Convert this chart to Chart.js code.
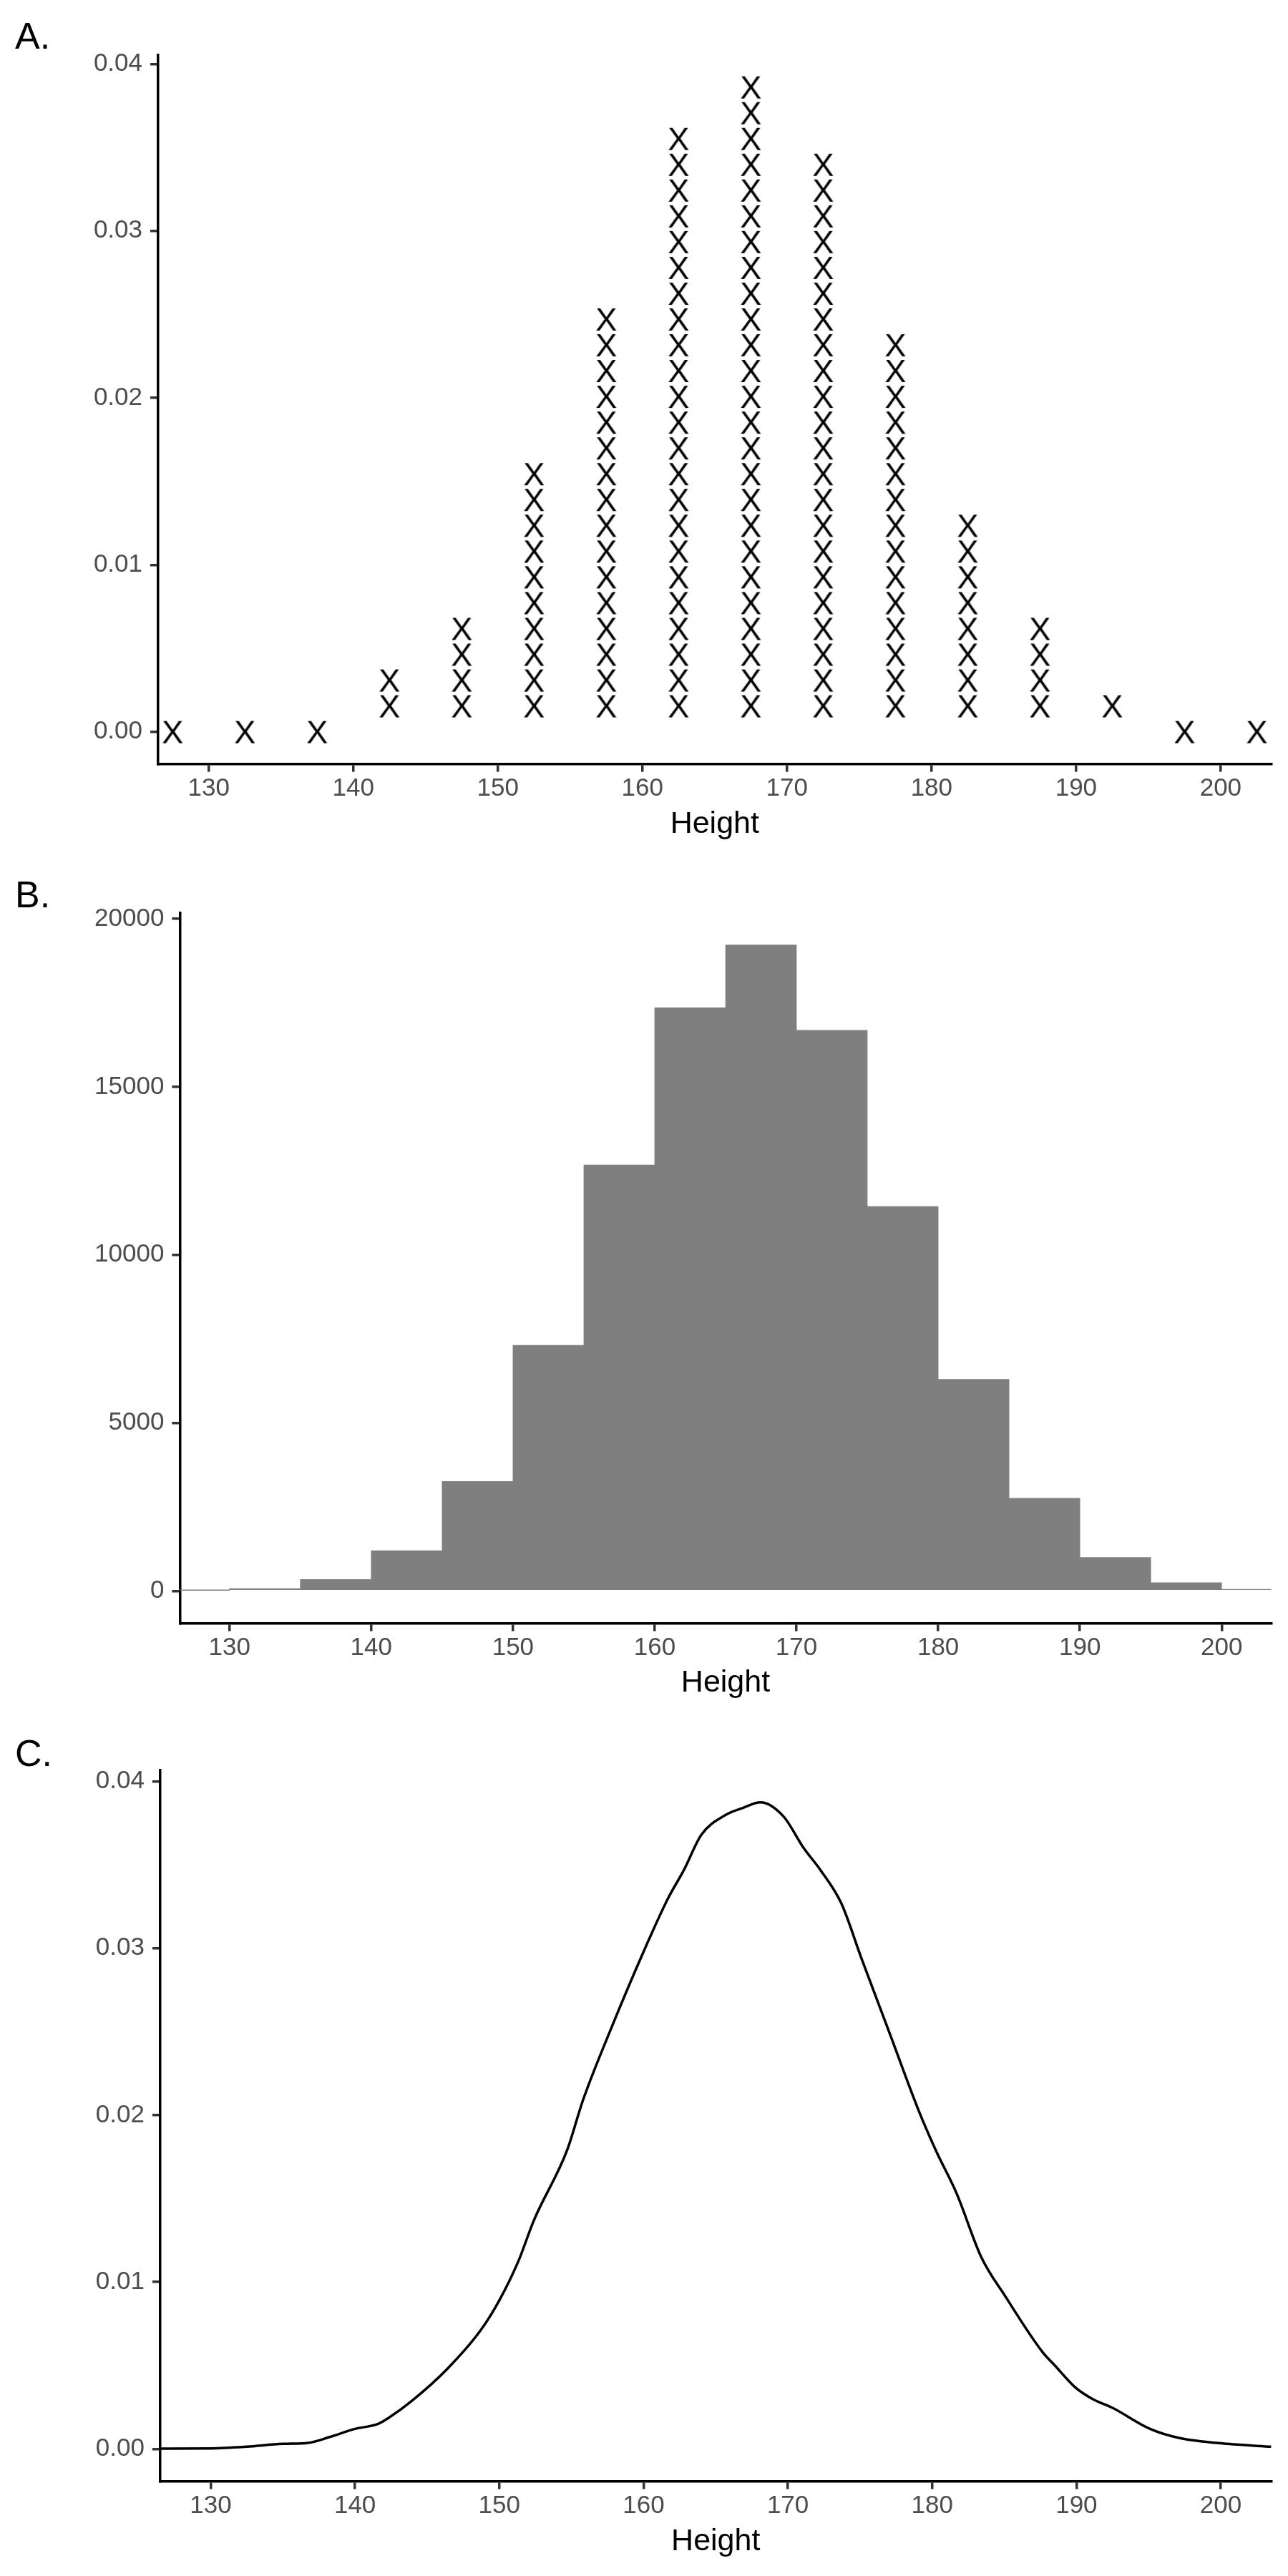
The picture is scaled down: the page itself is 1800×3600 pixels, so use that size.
<!DOCTYPE html>
<html>
<head>
<meta charset="utf-8">
<script src="https://cdn.jsdelivr.net/npm/chart.js@4.4.1/dist/chart.umd.min.js"></script>
<style>
html,body{margin:0;padding:0;background:#ffffff;}
canvas{display:block;}
</style>
</head>
<body>
<canvas id="cA" width="1800" height="1200"></canvas>
<canvas id="cB" width="1800" height="1200"></canvas>
<canvas id="cC" width="1800" height="1200"></canvas>
<script>
// ---------------- data ----------------
const binCenters = [127.5,132.5,137.5,142.5,147.5,152.5,157.5,162.5,167.5,172.5,177.5,182.5,187.5,192.5,197.5,202.5];
// Panel A: number of X marks stacked in each bin (0 => single mark at 0)
const dotCounts = [0,0,0,2,4,10,16,23,25,22,15,8,4,1,0,0];
const dotUnit = 0.001545;
// Panel B: histogram counts per 5-cm bin
const histCounts = [15,70,343,1200,3258,7311,12674,17351,19222,16680,11442,6298,2759,998,250,50];
// Panel C: density curve
const densityX = [126.5,130,132.5,135,136.75,138.2,140,141.6,142.4,143.9,146.4,148.7,150,151.3,152.4,154.7,155.8,157.8,160,161.7,162.8,164,165.7,166.85,168.1,169.7,171.1,172.25,173.7,175.1,177.1,179.1,180.25,181.7,183.4,185.1,187.65,188.5,189.9,191.1,192.5,195.1,197.1,200.5,203.5];
const densityY = [0.00002,0.00003,0.00013,0.0003,0.00036,0.0007,0.0012,0.0015,0.0019,0.00285,0.0048,0.0071,0.0089,0.0112,0.0137,0.0179,0.0209,0.0253,0.0298,0.0330,0.0347,0.0368,0.0380,0.0384,0.03875,0.0379,0.0360,0.0347,0.0327,0.0294,0.0248,0.0202,0.0179,0.0153,0.0115,0.0091,0.0058,0.0050,0.0037,0.0030,0.00246,0.0012,0.00066,0.0003,0.00013];
// tick labels
const xTicks = [130,140,150,160,170,180,190,200];
const densityTicks = [0,0.01,0.02,0.03,0.04];
const countTicks = [0,5000,10000,15000,20000];
const panelTags = ['A.','B.','C.'];
const xTitle = 'Height';

// ---------------- helpers ----------------
const FONT = '"Liberation Sans", Arial, Helvetica, sans-serif';

function makeXGlyph(){
  const c = document.createElement('canvas');
  c.width = 40; c.height = 40;
  const g = c.getContext('2d');
  g.fillStyle = '#000000';
  g.font = '45px "Liberation Sans", Arial, sans-serif';
  g.textAlign = 'center';
  g.textBaseline = 'alphabetic';
  g.fillText('X', 20, 20 + 0.716 * 45 / 2);
  return c;
}

const tagPlugin = {
  id: 'panelTag',
  afterDraw(chart, args, opts){
    const ctx = chart.ctx;
    ctx.save();
    ctx.font = '52px ' + FONT;
    ctx.fillStyle = '#000000';
    ctx.textAlign = 'left';
    ctx.textBaseline = 'alphabetic';
    ctx.fillText(opts.text, 21, 68);
    ctx.restore();
  }
};

function axis(isX, ticksArr, fmt, min, max, size){
  const o = {
    type: 'linear', min: min, max: max, offset: false,
    afterBuildTicks: s => { s.ticks = ticksArr.map(v => ({value: v})); },
    afterFit: s => { if (isX) s.height = size; else s.width = size; },
    grid: { display: true, drawOnChartArea: false, drawTicks: true, tickLength: 11,
            tickColor: '#333333', tickWidth: 3.5, lineWidth: 3.5, color: '#333333', offset: false },
    border: { display: true, color: '#000000', width: 3.5 },
    ticks: { color: '#4D4D4D', font: { family: FONT, size: 35 }, padding: isX ? 3 : 11,
             maxRotation: 0, minRotation: 0, autoSkip: false, callback: fmt }
  };
  if (isX) {
    o.title = { display: true, text: xTitle, color: '#000000', font: { family: FONT, size: 43 },
                padding: { top: 0, bottom: 22 } };
  }
  return o;
}

function baseOptions(tag, area, yAxis){
  return {
    responsive: false, animation: false, devicePixelRatio: 1,
    layout: { padding: { left: 0, top: area.top, right: 1800 - area.right, bottom: 0 } },
    plugins: { legend: { display: false }, tooltip: { enabled: false }, panelTag: { text: tag } },
    scales: {
      x: axis(true, xTicks, v => String(v), 126.5, 203.5, 1200 - area.bottom),
      y: yAxis(area.left)
    }
  };
}

// ---------------- Panel A ----------------
const dotPoints = [];
binCenters.forEach((c, i) => {
  const n = dotCounts[i];
  if (n === 0) dotPoints.push({x: c, y: 0});
  for (let k = 1; k <= n; k++) dotPoints.push({x: c, y: k * dotUnit});
});
const xGlyph = makeXGlyph();
new Chart(document.getElementById('cA'), {
  type: 'scatter',
  data: { datasets: [{ data: dotPoints, pointStyle: xGlyph, pointRadius: 15, showLine: false }] },
  options: baseOptions('A.', {left: 221, right: 1776.6, top: 76.6, bottom: 1067.6},
    w => axis(false, densityTicks, v => Number(v).toFixed(2), -0.00193, 0.040556, w)),
  plugins: [tagPlugin]
});

// ---------------- Panel B ----------------
new Chart(document.getElementById('cB'), {
  type: 'bar',
  data: { datasets: [{ data: binCenters.map((c, i) => ({x: c, y: histCounts[i]})),
    backgroundColor: '#7F7F7F', borderWidth: 0, barPercentage: 1, categoryPercentage: 1 }] },
  options: baseOptions('B.', {left: 251.4, right: 1776.6, top: 75.5, bottom: 1068.6},
    w => axis(false, countTicks, v => String(v), -961, 20181, w)),
  plugins: [tagPlugin]
});

// ---------------- Panel C ----------------
new Chart(document.getElementById('cC'), {
  type: 'line',
  data: { datasets: [{ data: densityX.map((x, i) => ({x: x, y: densityY[i]})),
    borderColor: '#000000', borderWidth: 3.5, pointRadius: 0, fill: false,
    cubicInterpolationMode: 'monotone' }] },
  options: baseOptions('C.', {left: 223.9, right: 1776.6, top: 73.5, bottom: 1067.6},
    w => axis(false, densityTicks, v => Number(v).toFixed(2), -0.00194, 0.04069, w)),
  plugins: [tagPlugin]
});
</script>
</body>
</html>
